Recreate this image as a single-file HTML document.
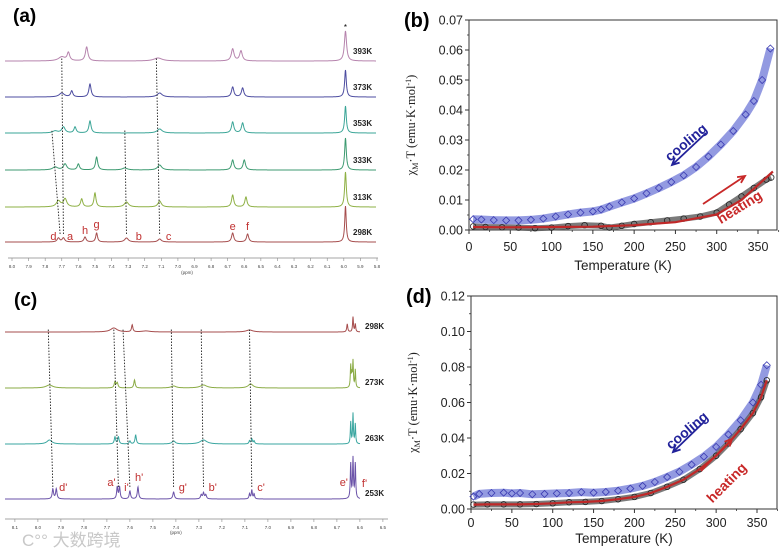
<!DOCTYPE html>
<html><head><meta charset="utf-8"><style>
html,body{margin:0;padding:0;background:#fff;}
svg{display:block;font-family:"Liberation Sans",Arial,sans-serif;}
</style></head><body>
<svg id="fig" width="780" height="550" viewBox="0 0 780 550" xmlns="http://www.w3.org/2000/svg">
<g id="pa"></g>
<g id="pb"></g>
<g id="pc"></g>
<g id="pd"></g>
<text x="22" y="546" font-size="17" fill="#c8c8c8" font-family="'Liberation Sans','Noto Sans CJK SC',sans-serif">C°° 大数跨境</text>
</svg>
<script>
// ---------- Panel (a) data ----------
const aTemps = ["393K","373K","353K","333K","313K","298K"];
const aPpm393 = [7.70,7.66,7.55,7.12,6.67,6.62,5.99];
const aH393   = [4,8,14,3,12,10,30];
const aW393   = [4,1.5,1.5,5,1.6,1.6,1.3];
const aPpm373 = [7.70,7.64,7.53,7.11,6.67,6.61,5.99];
const aH373   = [4,6,13,4,10,9,27];
const aW373   = [3,1.3,1.3,3,1.4,1.4,1.0];
const aPpm353 = [7.74,7.69,7.62,7.53,7.11,6.67,6.61,5.99];
const aH353   = [2,6,6,12,4,11,10,27];
const aW353   = [3,2,1.3,1.3,3,1.4,1.4,1.0];
const aPpm333 = [7.74,7.68,7.60,7.49,7.32,7.11,6.67,6.60,5.99];
const aH333   = [3,6,6,13,2,5,10,10,32];
const aW333   = [3,2,1.3,1.3,3,2.5,1.4,1.4,1.0];
const aPpm313 = [7.72,7.68,7.58,7.50,7.31,7.11,6.67,6.59,5.99];
const aH313   = [6,8,8,14,5,6,12,10,35];
const aW313   = [2.5,2,1.3,1.2,2.5,2,1.3,1.3,1.0];
const aPpm298 = [7.72,7.69,7.56,7.49,7.31,7.11,6.67,6.58,5.99];
const aH298   = [4,4,5,9,4,3,9,8,36];
const aW298   = [1.5,1.5,1.3,1.1,2.2,2,1.3,1.3,0.9];
const aBase   = [61,97,133,170,207,242];
const aColors = ["#b683ad","#4c4ca0","#3aa597","#3c9a70","#8eb044","#a64d4d"];
const aLabels = ["d","a","h","g","b","c","e","f"];
const aLabelPpm = [7.75,7.65,7.56,7.49,7.26,7.08,6.67,6.58];
const aLabelDy  = [-2,-2,-8,-14,-2,-2,-12,-12];
const aTickLabels = ["8.0","7.9","7.8","7.7","7.6","7.5","7.4","7.3","7.2","7.1","7.0","6.9","6.8","6.7","6.6","6.5","6.4","6.3","6.2","6.1","6.0","5.9","5.8"];
const aDotFrom = [7.71,7.69,7.31,7.11];
const aDotTo   = [7.76,7.70,7.32,7.13];
const aDotTopRow = [2,0,2,0];

// ---------- Panel (c) data ----------
const cTemps = ["298K","273K","263K","253K"];
const cPpm298 = [7.67,7.59,7.53,7.08,6.655,6.63,6.62];
const cH298   = [4,7,1,2,8,15,8];
const cW298   = [4,0.8,5,4,0.6,0.5,0.5];
const cPpm273 = [7.95,7.665,7.655,7.58,7.41,7.28,7.075,6.64,6.635,6.63,6.62];
const cH273   = [3,6,5,8,2,3,4,22,12,26,18];
const cW273   = [4,0.9,0.9,0.8,3,4,3,0.45,0.45,0.45,0.45];
const cPpm263 = [7.95,7.665,7.65,7.60,7.575,7.41,7.28,7.08,7.07,7.06,6.64,6.63,6.62];
const cH263   = [4,7,7,3,9,3,4,3,5,3,22,30,20];
const cW263   = [3,0.8,0.8,0.8,0.8,2,4,0.7,0.7,0.7,0.45,0.45,0.45];
const cPpm253 = [7.935,7.92,7.655,7.645,7.60,7.565,7.41,7.29,7.28,7.27,7.08,7.07,7.06,6.64,6.63,6.62];
const cH253   = [10,10,12,12,8,12,7,4,6,4,5,9,5,35,40,35];
const cW253   = [0.8,0.8,0.7,0.7,0.8,0.8,0.9,0.8,0.8,0.8,0.6,0.6,0.6,0.5,0.5,0.5];
const cBase   = [332,388,444,499];
const cColors = ["#a64d4d","#8aab44","#3aa6a0","#6a52a8"];
const cLabels = ["d'","a'","i'","h'","g'","b'","c'","e'","f'"];
const cLabelPpm = [7.89,7.68,7.615,7.56,7.37,7.24,7.03,6.67,6.58];
const cLabelDy  = [-8,-13,-8,-18,-8,-8,-8,-13,-12];
const cTickLabels = ["8.1","8.0","7.9","7.8","7.7","7.6","7.5","7.4","7.3","7.2","7.1","7.0","6.9","6.8","6.7","6.6","6.5"];
const cDotFrom = [7.935,7.65,7.60,7.41,7.28,7.07];
const cDotTo   = [7.955,7.67,7.63,7.42,7.29,7.08];

// ---------- Panel (b) data ----------
const bCoolT = [5,15,30,45,60,75,90,105,120,135,150,160,170,185,200,215,230,245,260,275,290,305,320,335,345,355,365];
const bCoolV = [0.0036,0.0035,0.0033,0.0032,0.0032,0.0034,0.0038,0.0045,0.0052,0.0058,0.0062,0.0068,0.0078,0.0092,0.0105,0.0122,0.0140,0.0160,0.0182,0.0210,0.0245,0.0285,0.0330,0.0385,0.0430,0.0500,0.0605];
const bHeatT = [5,20,40,60,80,100,120,140,160,170,185,200,220,240,260,280,300,315,330,345,360,366];
const bHeatV = [0.0012,0.0010,0.0009,0.0008,0.0006,0.0008,0.0013,0.0016,0.0014,0.0008,0.0014,0.0020,0.0026,0.0032,0.0038,0.0045,0.0058,0.0085,0.0112,0.0140,0.0168,0.0175];
const bRedT = [5,50,100,150,200,250,300,330,360,368];
const bRedV = [0.0010,0.0009,0.0010,0.0011,0.0016,0.0026,0.0052,0.0100,0.0175,0.0195];
const bYTicks = ["0.00","0.01","0.02","0.03","0.04","0.05","0.06","0.07"];
const bXTicks = ["0","50","100","150","200","250","300","350"];

// ---------- Panel (d) data ----------
const dCoolT = [3,10,25,40,50,60,75,90,105,120,135,150,165,180,195,210,225,240,255,270,285,300,315,330,345,355,362];
const dCoolV = [0.0070,0.0085,0.0090,0.0092,0.0088,0.0090,0.0083,0.0085,0.0088,0.0090,0.0095,0.0092,0.0096,0.0103,0.0115,0.0130,0.0152,0.0180,0.0210,0.0250,0.0295,0.0350,0.0420,0.0500,0.0600,0.0700,0.0810];
const dHeatT = [3,20,40,60,80,100,120,140,160,180,200,220,240,260,280,300,315,330,345,355,362];
const dHeatV = [0.0025,0.0026,0.0026,0.0026,0.0028,0.0032,0.0038,0.0040,0.0045,0.0055,0.0068,0.0090,0.0125,0.0165,0.0225,0.0300,0.0370,0.0450,0.0540,0.0630,0.0725];
const dYTicks = ["0.00","0.02","0.04","0.06","0.08","0.10","0.12"];
const dXTicks = ["0","50","100","150","200","250","300","350"];

const NS="http://www.w3.org/2000/svg";
function mk(parent,tag,attrs,text){
  const e=document.createElementNS(NS,tag);
  for(const k in attrs) e.setAttribute(k,attrs[k]);
  if(text!==undefined) e.textContent=text;
  parent.appendChild(e); return e;
}
function spectrumPath(xf,x0,x1,base,ppms,hs,ws){
  let d="";
  for(let x=x0;x<=x1;x+=0.25){
    let y=0;
    for(let i=0;i<ppms.length;i++){const dx=(x-xf(ppms[i]))/ws[i]; y+=hs[i]/(1+dx*dx);}
    d+=(x===x0?"M":"L")+x.toFixed(2)+","+(base-y).toFixed(2);
  }
  return d;
}

// ===== Panel (a) =====
(function(){
  const g=document.getElementById('pa');
  const xa=p=>12+(8.0-p)*(365/2.2);
  const t=mk(g,'text',{x:13,y:22,'font-size':19,'font-weight':'bold'},'(a)');
  
  
  const sets=[[aPpm393,aH393,aW393],[aPpm373,aH373,aW373],[aPpm353,aH353,aW353],[aPpm333,aH333,aW333],[aPpm313,aH313,aW313],[aPpm298,aH298,aW298]];
  sets.forEach((s,i)=>{
    const p=mk(g,'path',{d:spectrumPath(xa,5,376,aBase[i],s[0],s[1],s[2]),fill:'none',stroke:aColors[i],'stroke-width':1});
    
    
    const l=mk(g,'text',{x:353,y:aBase[i]-7,'font-size':8,'font-weight':'bold',fill:'#222'},aTemps[i]);
    
    
  });
  const star=mk(g,'text',{x:xa(5.99),y:30,'font-size':8,'text-anchor':'middle'},'*');
  
  
  aDotFrom.forEach((p,i)=>{
    const ln=mk(g,'line',{x1:xa(p),y1:aBase[5]-8,x2:xa(aDotTo[i]),y2:aBase[aDotTopRow[i]]-3,stroke:'#222','stroke-width':0.9,'stroke-dasharray':'1.5,1.5'});
    
    
  });
  aLabels.forEach((s,i)=>{
    const l=mk(g,'text',{x:xa(aLabelPpm[i])+(s==='b'||s==='c'?4:0),y:aBase[5]+aLabelDy[i],'font-size':11,fill:'#c03030','text-anchor':'middle'},s);
    
    
  });
  const ax=mk(g,'line',{x1:8,y1:258,x2:378,y2:258,stroke:'#888','stroke-width':0.8});
  
  
  aTickLabels.forEach((s,i)=>{
    const x=xa(8.0-i*0.1);
    mk(g,'line',{x1:x,y1:258,x2:x,y2:261,stroke:'#888','stroke-width':0.6});
    const l=mk(g,'text',{x:x,y:268,'font-size':4.5,'text-anchor':'middle',fill:'#444'},s);
    
    
  });
  const u=mk(g,'text',{x:187,y:274,'font-size':4.5,'text-anchor':'middle',fill:'#444'},'(ppm)');
  
  
})();

// ===== Panel (c) =====
(function(){
  const g=document.getElementById('pc');
  const xc=p=>54+(7.93-p)*230;
  const t=mk(g,'text',{x:14,y:306,'font-size':19,'font-weight':'bold'},'(c)');
  
  
  const sets=[[cPpm298,cH298,cW298],[cPpm273,cH273,cW273],[cPpm263,cH263,cW263],[cPpm253,cH253,cW253]];
  sets.forEach((s,i)=>{
    const p=mk(g,'path',{d:spectrumPath(xc,5,360,cBase[i],s[0],s[1],s[2]),fill:'none',stroke:cColors[i],'stroke-width':1});
    
    
    const l=mk(g,'text',{x:365,y:cBase[i]-3,'font-size':8,'font-weight':'bold',fill:'#222'},cTemps[i]);
    
    
  });
  cDotFrom.forEach((p,i)=>{
    const ln=mk(g,'line',{x1:xc(p),y1:cBase[3]-12,x2:xc(cDotTo[i]),y2:cBase[0]-3,stroke:'#222','stroke-width':0.9,'stroke-dasharray':'1.5,1.5'});
    
    
  });
  cLabels.forEach((s,i)=>{
    const l=mk(g,'text',{x:xc(cLabelPpm[i]),y:cBase[3]+cLabelDy[i],'font-size':11,fill:'#c03030','text-anchor':'middle'},s);
    
    
  });
  const ax=mk(g,'line',{x1:5,y1:519,x2:388,y2:519,stroke:'#888','stroke-width':0.8});
  
  
  cTickLabels.forEach((s,i)=>{
    const x=xc(8.1-i*0.1);
    mk(g,'line',{x1:x,y1:519,x2:x,y2:522,stroke:'#888','stroke-width':0.6});
    const l=mk(g,'text',{x:x,y:529,'font-size':4.5,'text-anchor':'middle',fill:'#444'},s);
    
    
  });
  const u=mk(g,'text',{x:xc(7.4),y:534,'font-size':4.5,'text-anchor':'middle',fill:'#444'},'(ppm)');
  
  
})();

// ===== Magnetic charts =====
function magChart(gid,cfg){
  const g=document.getElementById(gid);
  const {L,R,T,B,ymax,yTicks,xTicks,x350,coolT,coolV,heatT,heatV,redT,redV,label,arrows,tickDy,titleDy}=cfg;
  const sx=v=>L+v*(x350-L)/350;
  const sy=v=>B-v*(B-T)/ymax;
  const lab=mk(g,'text',{x:L-65,y:T+7,'font-size':20,'font-weight':'bold'},label);
  
  
  const box=mk(g,'rect',{x:L,y:T,width:R-L,height:B-T,fill:'none',stroke:'#333','stroke-width':1});
  
  
  yTicks.forEach((s,i)=>{
    const v=parseFloat(s), y=sy(v);
    mk(g,'line',{x1:L,y1:y,x2:L-4,y2:y,stroke:'#333','stroke-width':1});
    if(i<yTicks.length-1){const ym=sy(v+(parseFloat(yTicks[1])-parseFloat(yTicks[0]))/2);mk(g,'line',{x1:L,y1:ym,x2:L-2,y2:ym,stroke:'#333','stroke-width':0.8});}
    const t=mk(g,'text',{x:L-6,y:y+4.5,'font-size':12.5,'text-anchor':'end',fill:'#222'},s);
    
    
  });
  xTicks.forEach(s=>{
    const v=parseFloat(s), x=sx(v);
    mk(g,'line',{x1:x,y1:B,x2:x,y2:B+4,stroke:'#333','stroke-width':1});
    mk(g,'line',{x1:sx(v+25),y1:B,x2:sx(v+25),y2:B+2,stroke:'#333','stroke-width':0.8});
    const t=mk(g,'text',{x:x,y:B+tickDy,'font-size':12.5,'text-anchor':'middle',fill:'#222'},s);
    
    
  });
  const xt=mk(g,'text',{x:(L+R)/2,y:B+titleDy,'font-size':13.5,'text-anchor':'middle',fill:'#222'},'Temperature (K)');
  
  
  const yt=mk(g,'text',{x:0,y:0,'font-size':12.5,'text-anchor':'middle',fill:'#222','font-family':'"Liberation Serif",serif',transform:`translate(${L-54},${(T+B)/2}) rotate(-90)`});
  
  
  yt.innerHTML='χ<tspan font-size="8" dy="3">M</tspan><tspan dy="-3">·T (emu·K·mol</tspan><tspan font-size="8" dy="-4">-1</tspan><tspan dy="4">)</tspan>';
  const pts=(ts,vs)=>ts.map((t,i)=>sx(t).toFixed(1)+','+sy(vs[i]).toFixed(1)).join(' ');
  const cb=mk(g,'polyline',{points:pts(coolT,coolV),fill:'none',stroke:'#8088dc','stroke-width':8,'stroke-linejoin':'round',opacity:0.85});
  
  
  const hb=mk(g,'polyline',{points:pts(heatT,heatV),fill:'none',stroke:'#5a5a5a','stroke-width':6,'stroke-linejoin':'round',opacity:0.8});
  
  
  coolT.forEach((t,i)=>{
    const x=sx(t),y=sy(coolV[i]);
    const m=mk(g,'polygon',{points:`${x},${y-3.5} ${x+3.5},${y} ${x},${y+3.5} ${x-3.5},${y}`,fill:'none',stroke:'#3a3ab0','stroke-width':0.8});
    
    
  });
  heatT.forEach((t,i)=>{
    const m=mk(g,'circle',{cx:sx(t),cy:sy(heatV[i]),r:2.8,fill:'none',stroke:'#222','stroke-width':0.8});
    
    
  });
  const rl=mk(g,'polyline',{points:pts(redT,redV),fill:'none',stroke:'#c02828','stroke-width':2.2});
  
  
  arrows.forEach(a=>{
    const ln=mk(g,'line',{x1:a.x1,y1:a.y1,x2:a.x2,y2:a.y2,stroke:a.c,'stroke-width':1.8});
    
    
    const ang=Math.atan2(a.y2-a.y1,a.x2-a.x1);
    const h1=[a.x2-8*Math.cos(ang-0.45),a.y2-8*Math.sin(ang-0.45)],h2=[a.x2-8*Math.cos(ang+0.45),a.y2-8*Math.sin(ang+0.45)];
    mk(g,'polyline',{points:`${h1} ${a.x2},${a.y2} ${h2}`,fill:'none',stroke:a.c,'stroke-width':1.8});
    const tx=mk(g,'text',{x:0,y:0,'font-size':14,'font-weight':'bold',fill:a.c,'text-anchor':'middle',transform:`translate(${a.tx},${a.ty}) rotate(${a.rot})`},a.name);
    
    
  });
}
magChart('pb',{L:469,R:777,T:20,B:230,ymax:0.07,yTicks:bYTicks,xTicks:bXTicks,x350:758,tickDy:21,titleDy:40,
  coolT:bCoolT,coolV:bCoolV,heatT:bHeatT,heatV:bHeatV,redT:bRedT,redV:bRedV,label:'(b)',
  arrows:[{name:'cooling',c:'#22229a',x1:706,y1:133,x2:672,y2:165,tx:689,ty:146,rot:-40},
          {name:'heating',c:'#c82828',x1:703,y1:204,x2:745,y2:176,tx:742,ty:211,rot:-32}]});
magChart('pd',{L:471,R:777,T:296,B:509,ymax:0.12,yTicks:dYTicks,xTicks:dXTicks,x350:757,tickDy:18,titleDy:34,
  coolT:dCoolT,coolV:dCoolV,heatT:dHeatT,heatV:dHeatV,redT:dHeatT,redV:dHeatV,label:'(d)',
  arrows:[{name:'cooling',c:'#22229a',x1:705,y1:421,x2:673,y2:452,tx:690,ty:434,rot:-40},
          {name:'heating',c:'#c82828',x1:701,y1:471,x2:732,y2:439,tx:730,ty:486,rot:-45}]});
</script>
</body></html>
